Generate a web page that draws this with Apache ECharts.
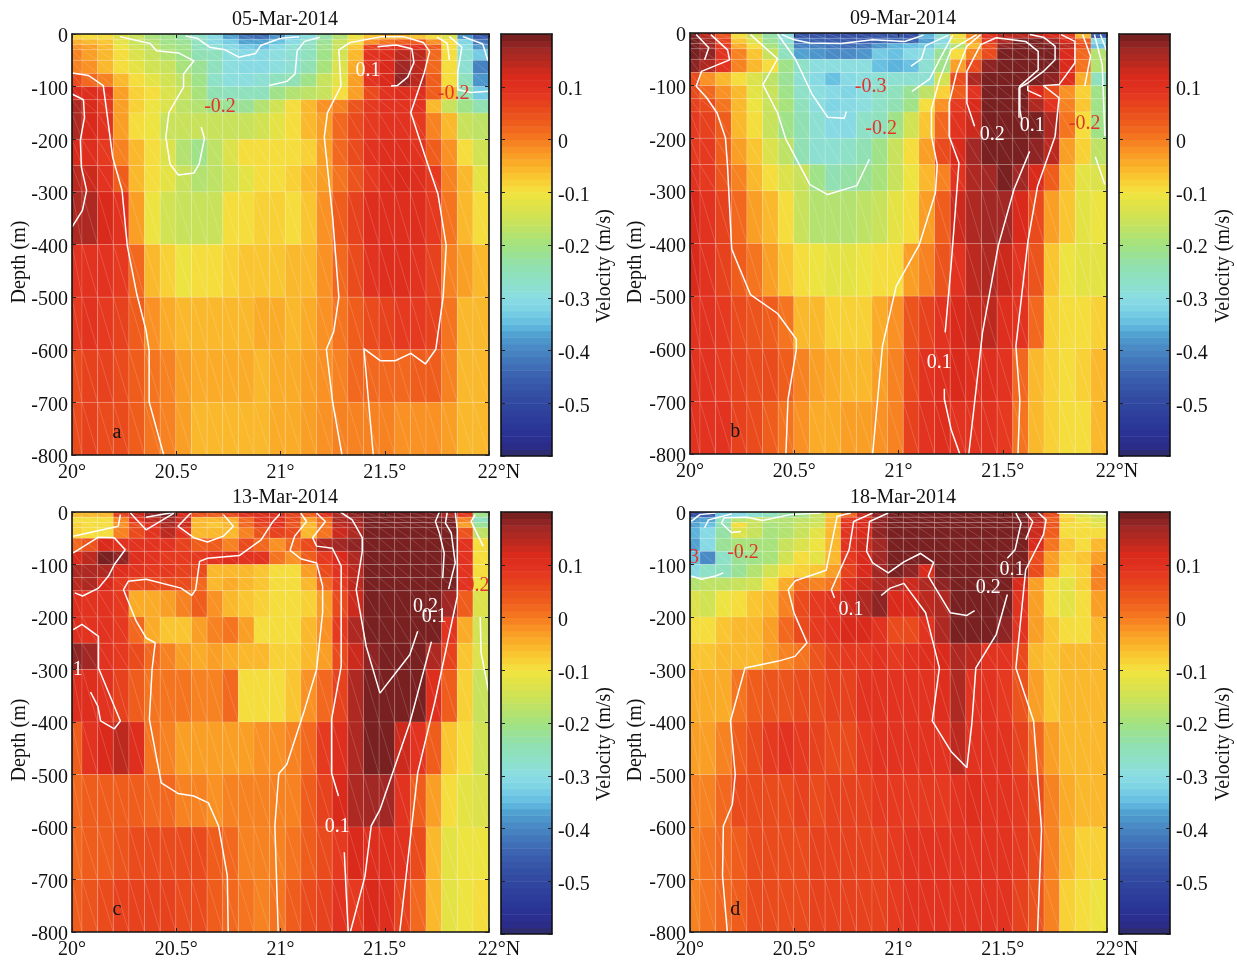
<!DOCTYPE html>
<html><head><meta charset="utf-8"><style>html,body{margin:0;padding:0;background:#fff}#c{width:1237px;height:960px}</style>
<script src="https://cdn.jsdelivr.net/npm/echarts@6/dist/echarts.min.js"></script></head><body><div id="c"></div>
<script>
const dates=['05-Mar-2014','09-Mar-2014','13-Mar-2014','18-Mar-2014'];
const depthEdges=[0,10,20,30,50,75,100,125,150,200,250,300,400,500,600,700,800];
const latEdges=[20,20.048,20.123,20.198,20.273,20.348,20.423,20.498,20.573,20.648,20.723,20.798,20.873,20.948,21.023,21.098,21.173,21.248,21.323,21.398,21.473,21.548,21.623,21.698,21.773,21.848,21.923,22];
const latTickLabels=['20°','20.5°','21°','21.5°','22°N'];
// velocity in cm/s, one row per depth layer, one column per latitude cell
const velocityA=[
[-8,-9,-10,-13,-16,-19,-21,-23,-27,-31,-37,-42,-43,-38,-33,-29,-23,-18,-11,-7,-6,-6,-7,-9,-13,-38,-46],
[-4,-5,-7,-12,-15,-18,-20,-22,-26,-30,-33,-37,-37,-34,-30,-27,-22,-16,-9,-2,1,3,3,-2,-10,-32,-42],
[-2,-3,-6,-11,-14,-17,-19,-21,-25,-28,-31,-33,-34,-31,-28,-26,-21,-15,-7,7,9,10,9,3,-10,-29,-38],
[-1,-3,-5,-10,-13,-15,-18,-20,-24,-26,-29,-31,-31,-29,-28,-25,-20,-14,-5,9,11,14,14,2,-10,-28,-33],
[-1,-2,-5,-9,-12,-14,-16,-19,-22,-26,-29,-30,-30,-29,-28,-24,-19,-13,-4,10,12,17,14,2,-9,-28,-40],
[5,2,-1,-6,-10,-12,-14,-17,-20,-27,-29,-29,-28,-26,-24,-20,-16,-12,-3,9,12,18,14,3,-10,-26,-38],
[12,11,10,-3,-8,-10,-13,-16,-19,-24,-25,-25,-25,-21,-18,-17,-15,-9,-3,5,10,11,11,3,-5,-24,-33],
[15,12,8,-3,-8,-11,-13,-17,-18,-21,-22,-22,-18,-14,-10,-6,-2,0,4,8,10,10,9,-6,-15,-20,-24],
[16,12,9,-3,-9,-11,-15,-15,-15,-16,-16,-15,-14,-12,-10,-6,-3,2,5,8,10,10,8,0,-6,-15,-17],
[12,11,8,0,-6,-10,-13,-18,-20,-17,-13,-10,-10,-10,-9,-8,-3,2,5,9,11,11,10,3,-2,-9,-14],
[14,13,10,3,-5,-9,-12,-15,-18,-17,-14,-12,-10,-9,-8,-6,-3,1,4,8,11,12,11,8,-1,-6,-12],
[15,15,12,9,-3,-11,-14,-15,-15,-15,-10,-9,-8,-8,-9,-7,-2,3,7,11,11,11,11,8,1,-6,-10],
[10,10,10,8,2,-6,-8,-11,-10,-10,-8,-7,-7,-7,-6,-5,-2,2,6,9,11,11,9,7,0,-3,-6],
[8,9,8,7,3,-2,-4,-5,-6,-6,-5,-5,-4,-4,-5,-4,-2,1,3,5,7,8,8,7,1,-5,-6],
[6,7,7,5,3,1,-1,-3,-4,-4,-4,-4,-5,-4,-4,-3,-2,0,2,2,2,2,3,3,0,-5,-6],
[6,7,6,5,3,1,-1,-3,-5,-5,-5,-5,-5,-4,-4,-3,-2,-1,0,0,-1,-2,-2,-2,-3,-5,-6]];
const velocityB=[
[19,14,4,-10,-15,-23,-29,-47,-47,-48,-48,-48,-47,-47,-48,-36,-28,-10,0,9,14,14,14,12,8,-6,-45],
[19,17,7,-7,-13,-22,-28,-43,-44,-45,-45,-45,-44,-44,-44,-37,-30,-12,-3,9,16,19,19,17,12,3,-30],
[20,17,8,-4,-10,-19,-26,-40,-41,-42,-43,-42,-38,-36,-34,-33,-28,-18,-5,5,18,20,20,20,14,5,-35],
[19,18,9,-1,-7,-16,-26,-37,-38,-39,-39,-38,-33,-34,-31,-29,-22,-9,-1,6,20,20,20,20,12,2,-18],
[18,15,9,0,-5,-9,-20,-27,-29,-29,-29,-29,-35,-36,-35,-28,-20,-3,6,18,20,20,20,19,12,1,-18],
[6,-2,-5,-9,-13,-17,-22,-28,-30,-35,-31,-29,-28,-28,-28,-28,-14,5,15,20,20,20,20,18,11,-4,-25],
[5,2,-2,-6,-12,-16,-20,-27,-29,-31,-32,-29,-27,-25,-22,-17,-8,3,10,20,20,20,12,6,-2,-8,-20],
[7,5,1,-5,-11,-15,-19,-26,-29,-32,-31,-29,-27,-24,-20,-9,-2,8,12,20,20,20,16,10,-1,-7,-20],
[8,7,3,-5,-9,-15,-20,-24,-28,-30,-30,-27,-25,-20,-14,-7,2,10,13,20,20,20,20,15,1,-9,-20],
[8,8,3,-3,-7,-13,-17,-24,-28,-28,-27,-24,-20,-15,-10,-3,5,12,17,20,20,20,18,14,-3,-8,-17],
[9,8,4,0,-5,-9,-13,-16,-21,-24,-23,-22,-19,-15,-11,-6,0,9,15,17,19,17,12,3,-6,-12,-13],
[12,9,7,2,-3,-5,-10,-15,-18,-18,-18,-17,-15,-12,-9,-3,3,13,15,17,17,12,6,-3,-7,-12,-11],
[12,9,7,3,1,-3,-7,-10,-11,-12,-12,-11,-10,-9,-3,-1,4,9,14,16,13,9,4,-7,-11,-12,-12],
[10,10,8,6,4,3,1,-5,-6,-8,-8,-8,-4,-2,4,7,10,12,13,14,11,9,2,-8,-10,-10,-8],
[9,10,8,7,6,5,3,0,-3,-4,-5,-5,-3,-1,6,9,11,12,11,11,9,2,-6,-8,-9,-8,-6],
[10,10,9,7,6,3,1,-2,-4,-4,-3,-3,-2,-1,7,9,11,10,10,10,8,1,-5,-8,-10,-9,-6]];
const velocityC=[
[-6,-6,-6,7,13,18,19,12,4,3,6,10,11,11,7,3,10,16,18,20,20,20,20,20,15,8,-20],
[-9,-10,-10,-1,9,14,17,13,-5,-5,-4,2,8,10,5,-3,2,15,17,20,20,20,20,20,19,-1,-25],
[-8,-10,-10,-2,6,11,15,13,-6,-7,-6,2,7,9,4,-6,1,14,16,20,20,20,20,20,19,-3,-22],
[-8,-9,-9,-1,6,10,14,10,-6,-6,-6,-1,4,7,5,-5,1,13,15,20,20,20,20,20,19,4,-17],
[2,4,12,9,10,10,9,7,3,3,0,6,2,-2,2,5,15,17,18,20,20,20,20,20,20,9,-10],
[12,14,19,18,11,9,8,8,8,9,11,10,9,1,-2,3,8,12,15,20,20,20,20,20,20,9,-9],
[15,15,16,11,9,8,8,7,5,-5,-5,-5,-7,-9,-9,-3,6,10,14,20,20,20,20,20,20,9,-9],
[14,16,12,8,5,5,5,5,2,-5,-4,-5,-7,-10,-10,-5,2,8,14,20,20,20,20,20,20,9,-11],
[11,10,9,8,-4,-4,-3,-1,3,-2,-5,-7,-8,-10,-10,-8,-3,6,13,20,20,20,20,20,17,3,-13],
[11,10,9,8,2,-4,-7,-7,-3,-1,1,-3,-10,-10,-10,-6,-2,8,15,20,20,20,20,20,9,-4,-14],
[18,17,10,8,5,2,0,-3,-4,-3,-4,-5,-6,-8,-8,-5,-3,5,13,18,20,20,20,15,7,-7,-13],
[11,11,9,7,3,1,1,1,0,0,2,-9,-10,-10,-7,-2,2,7,15,19,20,20,20,11,3,-8,-15],
[3,10,12,14,11,1,-1,-3,-3,-3,-3,-3,-2,-2,-1,2,8,11,16,19,19,13,10,3,-7,-9,-14],
[2,3,3,3,3,2,2,0,-1,-2,-1,-1,-1,0,0,3,7,12,16,17,17,10,3,-3,-10,-12,-13],
[2,3,3,4,5,6,5,6,5,3,2,0,-1,0,1,3,6,8,12,11,11,9,5,-5,-12,-11,-11],
[3,4,6,7,7,7,7,5,5,3,2,1,0,1,3,5,7,9,8,12,11,7,2,-6,-12,-11,-10]];
const velocityD=[
[-48,-45,-33,-30,-28,-26,-23,-21,-15,-7,2,13,18,20,20,20,20,20,20,20,20,20,15,5,-10,-13,-16],
[-38,-37,-26,-18,-15,-18,-18,-17,-15,-6,8,12,18,20,20,20,20,20,20,20,20,20,14,3,-8,-11,-13],
[-37,-35,-24,-10,-16,-19,-18,-16,-14,-5,9,12,18,20,20,20,20,20,20,20,20,20,13,4,-9,-9,-12],
[-36,-30,-23,-13,-15,-19,-18,-15,-12,-5,10,12,18,20,20,20,20,20,20,20,20,20,13,3,-9,-10,-9],
[-37,-30,-22,-19,-19,-19,-15,-13,-11,-6,10,13,17,20,20,20,20,20,20,20,20,20,12,1,-7,-9,-6],
[-35,-39,-27,-22,-20,-19,-14,-10,-12,-5,8,12,17,20,20,20,20,20,20,20,20,20,5,-3,-8,-7,-3],
[-30,-27,-25,-22,-18,-14,-9,-8,-7,-3,7,12,17,20,18,12,20,20,20,20,20,20,5,-3,-9,-8,-1],
[-18,-17,-17,-16,-14,-9,-4,1,0,1,10,13,16,16,13,15,18,20,20,20,20,12,-3,-9,-12,-8,-1],
[-13,-14,-11,-9,-7,-5,-1,6,8,10,13,15,18,12,12,14,16,20,20,20,20,9,-3,-9,-12,-9,-3],
[-10,-9,-7,-6,-5,-3,2,5,8,10,12,12,10,6,6,10,15,20,20,20,18,9,-3,-7,-9,-10,-5],
[-7,-7,-6,-5,-5,-3,-1,1,4,7,8,8,9,8,9,11,12,15,14,10,10,5,-5,-7,-5,-5,-6],
[-4,-4,-4,1,3,4,4,5,5,7,7,9,10,10,10,10,11,15,10,10,8,4,-3,-7,-6,-5,-5],
[-3,-3,-1,3,6,8,9,8,7,6,6,8,9,9,9,9,9,14,10,10,9,7,2,-3,-5,-5,-5],
[0,0,2,5,5,6,6,7,6,7,7,7,8,8,8,8,8,10,11,10,9,8,5,-1,-4,-5,-6],
[0,1,2,3,5,5,6,6,7,7,7,7,7,8,9,9,9,9,9,10,9,8,5,0,-6,-8,-8],
[0,1,2,3,5,5,6,6,7,7,7,7,7,8,9,9,9,9,9,10,9,7,4,0,-8,-10,-11]];
// contours, [latitude, depth in m]
const contoursA=[
[[20,114],[20.055,125],[20.06,158],[20.04,202],[20.045,253],[20.07,297],[20.05,335],[20,367]],
[[20,74],[20.08,79],[20.15,98],[20.17,158],[20.195,234],[20.24,297],[20.265,402],[20.31,493],[20.355,563],[20.37,601],[20.37,699],[20.44,800]],
[[20.23,5],[20.375,18],[20.405,32],[20.51,36],[20.585,51],[20.535,76],[20.535,101],[20.465,149],[20.45,196],[20.47,247],[20.51,268],[20.585,264],[20.61,247],[20.635,199],[20.62,177]],
[[20.545,4],[20.6,8],[20.66,25],[20.735,30],[20.8,44],[20.88,37],[20.905,22],[21,8],[21.09,5]],
[[20.945,98],[21.03,90],[21.07,76],[21.08,32],[21.115,14],[21.19,6]],
[[21.295,800],[21.25,699],[21.22,599],[21.255,566],[21.28,500],[21.25,348],[21.21,196],[21.225,150],[21.29,99],[21.28,30],[21.335,16],[21.485,5],[21.59,5],[21.685,16],[21.715,33],[21.69,73],[21.625,149],[21.695,234],[21.755,304],[21.795,402],[21.78,500],[21.745,599],[21.695,627],[21.625,607],[21.55,621],[21.48,621],[21.4,598],[21.445,800]],
[[21.465,24],[21.555,21],[21.63,28],[21.64,54],[21.61,82],[21.56,98],[21.53,99]],
[[21.75,6],[21.8,18],[21.81,49]],
[[21.81,5],[21.87,25],[21.85,73],[21.85,106],[21.915,111],[22,109]],
[[21.875,5],[21.97,19],[21.995,51]]];
const contoursB=[
[[20.03,3],[20.09,28],[20.07,51]],
[[20.1,3],[20.18,32],[20.19,51],[20.055,73],[20.03,101],[20.08,123],[20.13,152],[20.17,199],[20.18,253],[20.2,411],[20.29,497],[20.42,533],[20.51,582],[20.51,601],[20.47,696],[20.46,800]],
[[20.29,3],[20.42,49],[20.35,98],[20.42,152],[20.46,202],[20.575,288],[20.66,307],[20.8,290],[20.86,240]],
[[20.42,2],[20.505,49],[20.585,116],[20.66,160],[20.74,162],[20.75,149]],
[[20.44,3],[20.5,13],[20.575,19],[20.725,20],[20.875,13],[21.03,16],[21.12,4]],
[[21.24,4],[21.13,24],[21.11,49],[21.06,63]],
[[21.26,4],[21.19,56],[21.15,87],[21.065,111]],
[[20.876,800],[20.923,595],[20.989,481],[21.1,402],[21.177,304],[21.186,250],[21.158,196],[21.158,145],[21.196,89],[21.252,32],[21.375,3]],
[[21.224,569],[21.252,443],[21.29,247],[21.243,196],[21.243,133],[21.28,73],[21.328,25],[21.394,3]],
[[21.22,676],[21.22,696],[21.252,753],[21.294,800]],
[[21.365,177],[21.328,133],[21.328,73],[21.394,22],[21.469,9],[21.61,16],[21.67,35],[21.67,70],[21.582,101],[21.582,145],[21.59,164]],
[[21.629,225],[21.554,297],[21.478,405],[21.403,569],[21.337,800]],
[[21.578,161],[21.578,104],[21.62,95],[21.695,73],[21.751,51],[21.751,25],[21.695,8],[21.629,3]],
[[21.685,121],[21.62,109],[21.62,100]],
[[21.573,800],[21.582,696],[21.563,595],[21.62,398],[21.667,291],[21.751,196],[21.77,123],[21.695,100],[21.77,98],[21.846,57],[21.846,16],[21.78,3]],
[[21.893,101],[21.921,44],[21.883,3]],
[[21.94,3],[21.977,60],[21.99,196]],
[[21.944,235],[21.99,288]],
[[21.968,3],[22,35]]];
const contoursC=[
[[20.006,224],[20.048,214],[20.127,237],[20.127,297],[20.232,398],[20.203,413],[20.137,398],[20.124,370],[20.089,343]],
[[20.006,78],[20.127,48],[20.203,49],[20.255,72],[20.203,100],[20.175,122],[20.127,145],[20.051,160],[20.013,154]],
[[20.006,46],[20.222,27],[20.232,5]],
[[20.28,2],[20.355,34],[20.489,2]],
[[20.355,10],[20.497,0]],
[[20.57,2],[20.508,27],[20.584,49],[20.65,57],[20.726,46],[20.774,27],[20.726,5]],
[[21.002,2],[20.964,18],[20.907,53],[20.802,83],[20.65,88],[20.612,94],[20.593,148],[20.574,159],[20.523,145],[20.356,128],[20.27,132],[20.247,148],[20.308,208],[20.356,240],[20.399,249],[20.384,300],[20.371,395],[20.428,516],[20.508,536],[20.584,541],[20.654,554],[20.703,598],[20.745,693],[20.749,800]],
[[20.989,800],[20.973,598],[20.992,498],[21.03,481],[21.116,376],[21.173,300],[21.202,192],[21.202,141],[21.173,97],[21.097,89],[21.046,73],[21.068,46],[21.125,18],[21.097,2]],
[[21.278,541],[21.245,497],[21.245,395],[21.291,294],[21.291,103],[21.249,69],[21.173,65],[21.154,49],[21.215,18],[21.173,2]],
[[21.306,648],[21.316,732],[21.325,800]],
[[21.287,0],[21.344,15],[21.392,49],[21.392,75],[21.363,148],[21.411,256],[21.477,345],[21.62,272],[21.658,227]],
[[21.724,247],[21.62,402],[21.477,567],[21.435,598],[21.405,694],[21.335,800]],
[[21.572,800],[21.658,497],[21.743,357],[21.848,161],[21.848,34],[21.838,0]],
[[21.806,147],[21.838,97],[21.819,40],[21.791,21],[21.8,0]],
[[21.778,126],[21.785,78],[21.762,40],[21.743,18],[21.762,0]],
[[21.958,200],[21.962,268],[22,345]],
[[21.934,5],[21.914,18],[21.972,65]]];
const contoursD=[
[[20.006,18],[20.047,5],[20.122,2]],
[[20.07,30],[20.089,15],[20.198,4]],
[[20.245,37],[20.198,39],[20.151,21],[20.164,11],[20.273,10],[20.348,16],[20.48,5],[20.63,2]],
[[20.006,122],[20.056,128],[20.122,122],[20.16,116]],
[[20.179,800],[20.156,693],[20.16,598],[20.203,557],[20.217,500],[20.194,398],[20.264,297],[20.424,284],[20.503,275],[20.561,249],[20.499,192],[20.471,148],[20.505,131],[20.653,111],[20.706,8],[20.772,2]],
[[20.693,164],[20.678,148],[20.763,72],[20.785,18],[20.876,2]],
[[20.951,2],[20.861,18],[20.847,75],[20.876,97],[20.951,116],[21.026,95],[21.105,79],[21.168,96],[21.143,122],[21.249,192],[21.328,197],[21.365,188]],
[[20.917,159],[20.96,145],[21.026,136],[21.13,192],[21.196,297],[21.162,398],[21.252,456],[21.328,487],[21.352,402],[21.371,297],[21.469,233],[21.522,157]],
[[21.522,88],[21.559,72],[21.588,21],[21.563,2]],
[[21.61,53],[21.644,18],[21.61,2]],
[[21.667,800],[21.686,605],[21.648,398],[21.563,297],[21.61,110],[21.695,43],[21.708,15],[21.667,0]],
[[21.76,2],[22,4]]];
// labels: [latitude, depth, text, kind]
const labelsA=[[21.42,70,'0.1','w'],[20.71,138,'-0.2','r'],[21.83,114,'-0.2','r'],[20.215,758,'a','k']];
const labelsB=[[20.866,102,'-0.3','r'],[20.917,182,'-0.2','r'],[21.893,172,'-0.2','r'],[21.45,193,'0.2','w'],[21.642,177,'0.1','w'],[21.196,626,'0.1','w'],[20.217,757,'b','k']];
const labelsC=[[20.027,300,'1','w'],[21.696,181,'0.2','w'],[21.738,199,'0.1','w'],[21.943,140,'0.2','r'],[21.272,600,'0.1','w'],[20.215,757,'c','k']];
const labelsD=[[20.019,88,'3','r'],[20.254,77,'-0.2','r'],[20.772,186,'0.1','w'],[21.431,145,'0.2','w'],[21.544,110,'0.1','w'],[20.217,757,'d','k']];
// colour scale
const scaleStops=[[-0.6,'#2f2c66'],[-0.58,'#2b2c8a'],[-0.55,'#2a3596'],[-0.5,'#31479f'],[-0.45,'#3a5fae'],[-0.4,'#4886c3'],[-0.37,'#50a0d0'],[-0.35,'#62bce0'],[-0.32,'#7fd4e4'],[-0.3,'#8adde2'],[-0.27,'#8ee0c8'],[-0.24,'#90e0b0'],[-0.2,'#a3e280'],[-0.17,'#bde267'],[-0.14,'#d4e24f'],[-0.1,'#f2e33f'],[-0.08,'#f8d035'],[-0.05,'#fab22a'],[-0.02,'#f99324'],[0,'#f57a20'],[0.03,'#ef5e1d'],[0.06,'#e9481d'],[0.09,'#e33421'],[0.12,'#d92a1b'],[0.15,'#b5291f'],[0.17,'#a02824'],[0.2,'#6f1e20']];
const scaleMin=-0.6,scaleMax=0.2,scaleLevels=64;
function hex(c){return [1,3,5].map(i=>parseInt(c.substr(i,2),16));}
function rawColor(v){
  if(v<=scaleStops[0][0])return scaleStops[0][1];
  for(let i=1;i<scaleStops.length;i++){if(v<=scaleStops[i][0]){const a=scaleStops[i-1],b=scaleStops[i],t=(v-a[0])/(b[0]-a[0]),p=hex(a[1]),q=hex(b[1]);
    return 'rgb('+p.map((x,k)=>Math.round(x+(q[k]-x)*t)).join(',')+')';}}
  return scaleStops[scaleStops.length-1][1];
}
function levelOf(v){return Math.max(0,Math.min(scaleLevels-1,Math.floor((v-scaleMin)/(scaleMax-scaleMin)*scaleLevels)));}
const bandColors=Array.from({length:scaleLevels},(_,i)=>rawColor(scaleMin+(i+0.5)*(scaleMax-scaleMin)/scaleLevels));
const FONT='"Liberation Serif","Times New Roman",serif';
const FS=20;
const richDown={d:{padding:[6,0,0,0],fontFamily:FONT,fontSize:FS,color:'#111'}};
const panels=[
 {v:velocityA,c:contoursA,l:labelsA,left:72,top:34,bl:501,bt:34,h:421},
 {v:velocityB,c:contoursB,l:labelsB,left:690,top:33,bl:1119,bt:34,h:421},
 {v:velocityC,c:contoursC,l:labelsC,left:72,top:512,bl:501,bt:512,h:420},
 {v:velocityD,c:contoursD,l:labelsD,left:690,top:512,bl:1119,bt:512,h:420}];
const grid=[],xAxis=[],yAxis=[],series=[],title=[],graphic=[];
const line={show:true,onZero:false,lineStyle:{color:'#111',width:1.6}};
const tick={show:true,inside:true,length:4,lineStyle:{color:'#222',width:1}};
function addAxes(g,xo,yo){
  xAxis.push(Object.assign({gridIndex:g,type:'value',position:'bottom',z:10,axisLine:line,splitLine:{show:false}},xo));
  xAxis.push(Object.assign({gridIndex:g,type:'value',position:'top',z:10,axisLine:line,splitLine:{show:false}},xo,{axisLabel:{show:false}}));
  yAxis.push(Object.assign({gridIndex:g,type:'value',position:'left',z:10,axisLine:line,splitLine:{show:false}},yo,{axisLabel:yo.leftLabel||{show:false}}));
  yAxis.push(Object.assign({gridIndex:g,type:'value',position:'right',z:10,axisLine:line,splitLine:{show:false}},yo,{axisLabel:yo.rightLabel||{show:false}}));
}
const cellRender=(params,api)=>{
  const a=api.coord([api.value(0),api.value(2)]),b=api.coord([api.value(1),api.value(3)]);
  const col=bandColors[levelOf(api.value(4)/100)];
  return {type:'group',children:[
    {type:'rect',shape:{x:a[0],y:a[1],width:b[0]-a[0],height:b[1]-a[1]},style:{fill:col,stroke:'rgba(255,255,255,0.2)',lineWidth:0.7}},
    {type:'line',shape:{x1:a[0],y1:a[1],x2:b[0],y2:b[1]},style:{stroke:'rgba(255,255,255,0.26)',lineWidth:0.6}}]};
};
const bandRender=(params,api)=>{
  const a=api.coord([0,api.value(1)]),b=api.coord([1,api.value(0)]);
  return {type:'rect',shape:{x:a[0],y:a[1],width:b[0]-a[0],height:b[1]-a[1]+0.5},style:{fill:bandColors[api.value(2)]}};
};
panels.forEach((p,i)=>{
  const g=i*2,gb=i*2+1;
  grid.push({left:p.left,top:p.top,width:417,height:p.h});
  grid.push({left:p.bl,top:p.bt,width:51,height:422});
  addAxes(g,{min:20,max:22,interval:0.5,axisTick:tick,axisLabel:{show:true,color:'#111',fontFamily:FONT,fontSize:FS,margin:8,
      formatter:(v)=>{const k=Math.round((v-20)*2);return k===4?'{e|'+latTickLabels[k]+'}':latTickLabels[k];},rich:{e:{padding:[0,0,0,20],fontFamily:FONT,fontSize:FS,color:'#111'}}}},
    {min:-800,max:0,interval:100,axisTick:tick,leftLabel:{show:true,color:'#111',fontFamily:FONT,fontSize:FS,margin:4,formatter:(v)=>'{d|'+v+'}',rich:richDown}});
  addAxes(gb,{min:0,max:1,axisTick:{show:false},axisLabel:{show:false}},
    {min:-0.6,max:0.2,interval:0.1,axisTick:tick,rightLabel:{show:true,color:'#111',fontFamily:FONT,fontSize:FS,margin:6,rich:richDown,
      formatter:(v)=>{const r=Math.round(v*10)/10;return (r>=0.2||r<=-0.6)?'':'{d|'+r+'}';}}});
  const data=[];
  p.v.forEach((row,r)=>row.forEach((val,c)=>data.push([latEdges[c],latEdges[c+1],-depthEdges[r],-depthEdges[r+1],val])));
  series.push({type:'custom',xAxisIndex:g*2,yAxisIndex:g*2,renderItem:cellRender,data,silent:true,clip:true,animation:false,z:2,encode:{x:[0,1],y:[2,3]}});
  p.c.forEach(cn=>series.push({type:'line',xAxisIndex:g*2,yAxisIndex:g*2,data:cn.map(q=>[q[0],-q[1]]),symbol:'none',silent:true,animation:false,z:3,clip:true,lineStyle:{color:'#fff',width:1.5}}));
  const colors={w:'#fff',r:'#e0352b',k:'#111'};
  series.push({type:'scatter',xAxisIndex:g*2,yAxisIndex:g*2,symbolSize:1,itemStyle:{color:'transparent',opacity:1},silent:true,animation:false,z:4,clip:true,
    data:p.l.map(q=>({value:[q[0],-q[1]],name:q[2],label:{color:colors[q[3]]}})),
    label:{show:true,position:'inside',formatter:(d)=>d.name,fontFamily:FONT,fontSize:FS}});
  series.push({type:'custom',xAxisIndex:gb*2,yAxisIndex:gb*2,renderItem:bandRender,silent:true,animation:false,z:2,clip:true,
    data:bandColors.map((_,k)=>[scaleMin+k*(scaleMax-scaleMin)/scaleLevels,scaleMin+(k+1)*(scaleMax-scaleMin)/scaleLevels,k]),encode:{y:[0,1]}});
  title.push({text:dates[i],left:p.left+208,top:p.top-29,textAlign:'center',textStyle:{fontFamily:FONT,fontSize:FS,fontWeight:'normal',color:'#111'}});
  const depthX=i%2?636:20, velX=i%2?1224:605, rowY=i<2?0:478;
  graphic.push({type:'text',x:depthX,y:262+rowY,rotation:Math.PI/2,style:{text:'Depth (m)',font:FS+'px '+FONT,fill:'#111',align:'center',verticalAlign:'middle'}});
  graphic.push({type:'text',x:velX,y:266+rowY,rotation:Math.PI/2,style:{text:'Velocity (m/s)',font:FS+'px '+FONT,fill:'#111',align:'center',verticalAlign:'middle'}});
});
const chart=echarts.init(document.getElementById('c'),null,{width:1237,height:960});
chart.setOption({animation:false,backgroundColor:'#fff',title,grid,xAxis,yAxis,series,graphic});
</script></body></html>
